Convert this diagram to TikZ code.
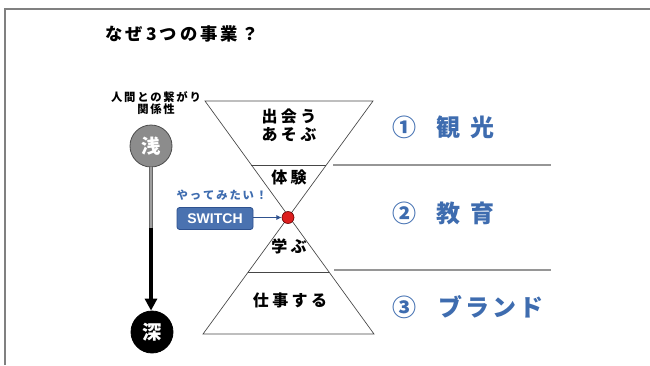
\documentclass[tikz,border=0pt]{standalone}
\usepackage{fontspec}
\setmainfont{Noto Sans CJK JP}
\newfontfamily\jp{Noto Sans CJK JP}
\newfontfamily\latin{Liberation Sans}
\usetikzlibrary{arrows.meta}
\makeatletter
\newcommand\lsp[2]{\def\lsp@gap{#1}\lsp@loop#2\lsp@end}
\def\lsp@loop#1#2{#1\ifx#2\lsp@end\expandafter\@gobble\else\kern\lsp@gap\relax\expandafter\@firstofone\fi{\lsp@loop#2}}
\def\lsp@end{\lsp@end}
\makeatother
\definecolor{txtblue}{RGB}{62,108,175}
\definecolor{swfill}{RGB}{74,114,176}
\definecolor{swdraw}{RGB}{47,82,143}
\definecolor{framegrey}{RGB}{128,128,128}
\definecolor{sepgrey}{RGB}{150,150,150}
\definecolor{hgline}{RGB}{70,70,70}
\definecolor{dotred}{RGB}{220,30,30}
\tikzset{
  hgtext/.style={font=\jp\bfseries\fontsize{12pt}{15pt}\selectfont, align=center, inner sep=0pt},
  bizlabel/.style={font=\jp\bfseries\fontsize{18pt}{20pt}\selectfont, text=txtblue, anchor=west, inner sep=0pt},
  smalltext/.style={font=\jp\bfseries\fontsize{8.5pt}{10pt}\selectfont, inner sep=0pt, align=center},
  bigcircle/.style={circle, minimum size=31.5pt, inner sep=0pt, font=\jp\bfseries\fontsize{14.5pt}{16pt}\selectfont, text=white},
  sepline/.style={draw=sepgrey, line width=1.1pt},
  hgdraw/.style={draw=hgline, line width=0.5pt}
}
\begin{document}
\begin{tikzpicture}[x=0.75pt,y=-0.75pt]
\useasboundingbox (0,0) rectangle (650,365);
% frame
\draw[framegrey, line width=1.1pt] (5,365) -- (5,9) -- (650,9);
% title
\node[font=\jp\bfseries\fontsize{13pt}{15pt}\selectfont, inner sep=0pt] (title) at (182,34) {\lsp{2.3pt}{なぜ3つの事業？}};
% hourglass
\coordinate (TL) at (205,101);
\coordinate (TR) at (373,101);
\coordinate (BL) at (203,334);
\coordinate (BR) at (374,334);
\draw[hgdraw] (TL) -- (TR) -- (BL) -- (BR) -- cycle;
\coordinate (u1) at (251.4,165);
\coordinate (u2) at (326.3,165);
\coordinate (l1) at (248.2,272);
\coordinate (l2) at (329.0,272);
\draw[hgdraw] (u1) -- (u2);
\draw[hgdraw] (l1) -- (l2);
% separators
\coordinate (s1a) at (333,165);
\coordinate (s1b) at (551,165);
\coordinate (s2a) at (334,270);
\coordinate (s2b) at (551,270);
\draw[sepline] (s1a) -- (s1b);
\draw[sepline] (s2a) -- (s2b);
% hourglass texts
\node[hgtext] (t1) at (289,116) {\lsp{2.6pt}{出会う}};
\node[hgtext] (t2) at (289,135) {\lsp{2.6pt}{あそぶ}};
\node[hgtext] (t3) at (289,177) {\lsp{2.6pt}{体験}};
\node[hgtext] (t4) at (289,246) {\lsp{2.6pt}{学ぶ}};
\node[hgtext] (t5) at (290,300) {\lsp{2.6pt}{仕事する}};
% right labels
\node[bizlabel] (b1) at (392,127) {①\hspace{15pt}観\hspace{8pt}光};
\node[bizlabel] (b2) at (392,213) {②\hspace{15pt}教\hspace{8pt}育};
\node[bizlabel] (b3) at (392,307) {③\hspace{16.5pt}\lsp{2.2pt}{ブランド}};
% red dot and switch
\node[circle, fill=dotred, draw=black!60!red, line width=0.5pt, minimum size=9pt, inner sep=0pt] (dot) at (288,217.5) {};
\node[rectangle, rounded corners=2pt, fill=swfill, draw=swdraw, line width=0.6pt, minimum width=57pt, minimum height=16.5pt, inner sep=0pt, text=white, font=\latin\bfseries\fontsize{10.5pt}{12pt}\selectfont] (sw) at (215,218.5) {SWITCH};
\draw[swdraw, line width=1.2pt, -{Latex[length=4pt,width=4pt]}] (sw.east |- dot) -- (dot.west);
\node[smalltext, text=txtblue] (try) at (222,195) {\lsp{1.4pt}{やってみたい！}};
% left scale
\node[smalltext] (lab1) at (156,97) {\lsp{1.3pt}{人間との繋がり}};
\node[smalltext] (lab2) at (156,109) {\lsp{1.3pt}{関係性}};
\node[bigcircle, fill=black!45, draw=black!70, line width=0.6pt] (shallow) at (151,146) {浅};
\node[bigcircle, fill=black, draw=black, line width=0.6pt] (deep) at (152,332) {深};
\coordinate (mid) at (151,228);
\draw[black!60, line width=3.6pt] (shallow.south) -- (mid);
\draw[black!38, line width=2.1pt] (shallow.south) -- (mid);
\draw[black, line width=3pt, -{Triangle[length=9pt,width=9pt]}] (mid) -- (mid |- deep.north);
\end{tikzpicture}
\end{document}
